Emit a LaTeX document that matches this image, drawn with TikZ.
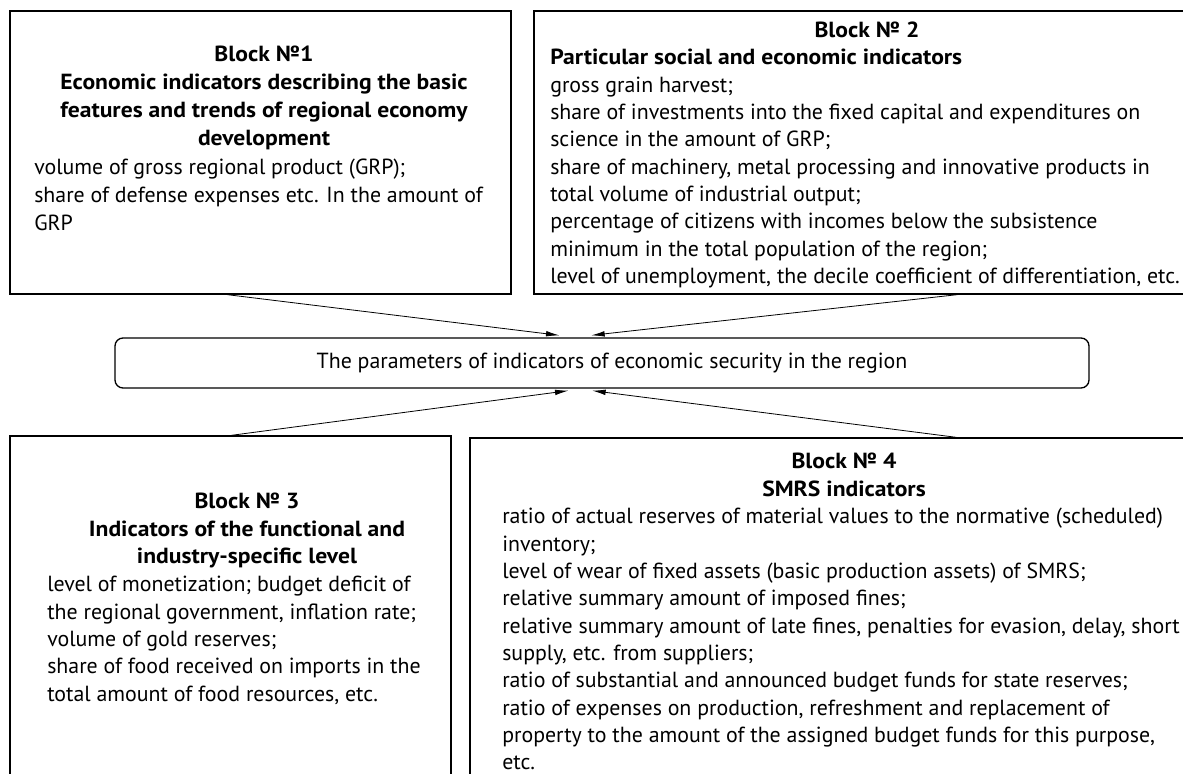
\documentclass[tikz,border=0pt]{standalone}
\usepackage{fontspec}
\setmainfont{PT Sans}[BoldFeatures={FakeStretch=1.08}]
\usetikzlibrary{arrows.meta,calc}
\tikzset{
  blk/.style={draw, line width=1pt, rectangle, inner sep=0pt},
  cbox/.style={draw, line width=1pt, rectangle, rounded corners=6pt, inner sep=0pt},
  txt/.style={inner sep=0pt, font=\fontsize{16.4pt}{20.5pt}\selectfont},
  hd/.style={txt, align=center, font=\fontsize{16.4pt}{20.5pt}\selectfont\bfseries},
  body/.style={txt, align=left},
  arr/.style={line width=0.6pt, -{Latex[length=10pt,width=4.2pt]}}
}
\begin{document}
\begin{tikzpicture}[x=0.75pt,y=-0.75pt]
\useasboundingbox (0,0) rectangle (1183,774);
% boxes
\node[blk, minimum width=375.75pt, minimum height=212.25pt] (b1) at (260.5,152.5) {};
\node[blk, minimum width=492pt, minimum height=212.25pt] (b2) at (862,152.5) {};
\node[blk, minimum width=330.75pt, minimum height=265.5pt] (b3) at (230.5,613) {};
\node[blk, minimum width=540pt, minimum height=264pt] (b4) at (830,614) {};
\node[cbox, minimum width=730.5pt, minimum height=37.5pt] (c) at (602,363) {};
% block 1
\node[hd, anchor=north, font=\fontsize{16.4pt}{21pt}\selectfont\bfseries] (h1) at (264,46) {Block №1\\Economic indicators describing the basic\\features and trends of regional economy\\development};
\node[body, anchor=north west, font=\fontsize{16.4pt}{20.8pt}\selectfont] (t1) at (34,159) {volume of gross regional product (GRP);\\share of defense expenses etc. In the amount of\\GRP};
% block 2
\node[hd, anchor=north] (h2) at (867,22) {Block № 2};
\node[body, anchor=north west] (t2) at (550,49) {\textbf{Particular social and economic indicators}\\gross grain harvest;\\share of investments into the fixed capital and expenditures on\\science in the amount of GRP;\\share of machinery, metal processing and innovative products in\\total volume of industrial output;\\percentage of citizens with incomes below the subsistence\\minimum in the total population of the region;\\level of unemployment, the decile coefficient of differentiation, etc.};
% block 3
\node[hd, anchor=north] (h3) at (247,493) {Block № 3\\Indicators of the functional and\\industry-specific level};
\node[body, anchor=north west] (t3) at (47,576) {level of monetization; budget deficit of\\the regional government, inflation rate;\\volume of gold reserves;\\share of food received on imports in the\\total amount of food resources, etc.};
% block 4
\node[hd, anchor=north] (h4) at (844,453) {Block № 4\\SMRS indicators};
\node[body, anchor=north west] (t4) at (502,508) {ratio of actual reserves of material values to the normative (scheduled)\\inventory;\\level of wear of fixed assets (basic production assets) of SMRS;\\relative summary amount of imposed fines;\\relative summary amount of late fines, penalties for evasion, delay, short\\supply, etc. from suppliers;\\ratio of substantial and announced budget funds for state reserves;\\ratio of expenses on production, refreshment and replacement of\\property to the amount of the assigned budget funds for this purpose,\\etc.};
% centre
\node[txt] (ct) at (612,363) {The parameters of indicators of economic security in the region};
% arrows
\draw[arr] ($(b1.south west)+(218,0)$) -- ($(c.north west)+(445,-2)$);
\draw[arr] ($(b2.south west)+(424,0)$) -- ($(c.north west)+(477,-2)$);
\draw[arr] ($(b3.north west)+(222,0)$) -- ($(c.south west)+(454,2)$);
\draw[arr] ($(b4.north west)+(487,0)$) -- ($(c.south west)+(478,2)$);
\end{tikzpicture}
\end{document}
